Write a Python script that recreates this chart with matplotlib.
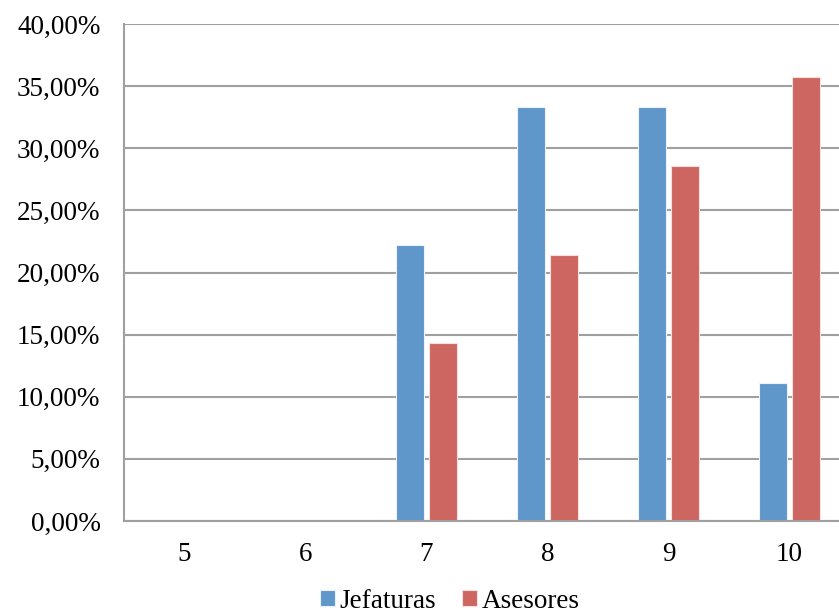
import numpy as np
import matplotlib.pyplot as plt
from matplotlib.ticker import FuncFormatter

# Porcentaje por calificacion
categorias = ['5', '6', '7', '8', '9', '10']
jefaturas = [0.0, 0.0, 22.22, 33.33, 33.33, 11.11]
asesores = [0.0, 0.0, 14.29, 21.43, 28.57, 35.71]

plt.rcParams['font.family'] = ['Liberation Serif', 'DejaVu Serif']

W, H = 839, 613
fig = plt.figure(figsize=(W / 100, H / 100), dpi=100)
# the plot area runs a bit past the right edge of the figure
ax = fig.add_axes([124 / W, (H - 521) / H, 726 / W, 497 / H])

x = np.arange(len(categorias))
bw = 0.225
off = 0.137
ax.bar(x - off, jefaturas, bw, color='#6097CB', edgecolor='#EAF1F8',
       linewidth=0.8, label='Jefaturas', zorder=3)
ax.bar(x + off, asesores, bw, color='#CD6660', edgecolor='#F5E0DF',
       linewidth=0.8, label='Asesores', zorder=3)

fs = 19.5
ax.set_xlim(-0.5, len(categorias) - 0.5)
ax.set_ylim(0, 40)
ax.set_yticks(np.arange(0, 41, 5))
ax.yaxis.set_major_formatter(FuncFormatter(lambda v, p: f'{v:.2f}%'.replace('.', ',')))
ax.set_xticks(x)
ax.set_xticklabels(categorias)
ax.tick_params(axis='both', length=0, labelsize=fs, colors='black')
ax.tick_params(axis='y', pad=17)
ax.tick_params(axis='x', pad=15)

ax.grid(axis='y', color='#A0A0A0', linewidth=1.5, zorder=0)
for s in ['top', 'right']:
    ax.spines[s].set_visible(False)
ax.spines['left'].set_color('#A0A0A0')
ax.spines['left'].set_linewidth(1.5)
ax.spines['bottom'].set_color('#A0A0A0')
ax.spines['bottom'].set_linewidth(1.5)
ax.spines['bottom'].set_zorder(4)

leg = fig.legend(loc='center', bbox_to_anchor=(450 / W, 1 - 601 / H), ncol=2,
                 frameon=False, fontsize=fs, handlelength=0.55,
                 handleheight=0.55, handletextpad=0.18, columnspacing=0.95,
                 borderpad=0)

fig.savefig('out.png', dpi=100)
